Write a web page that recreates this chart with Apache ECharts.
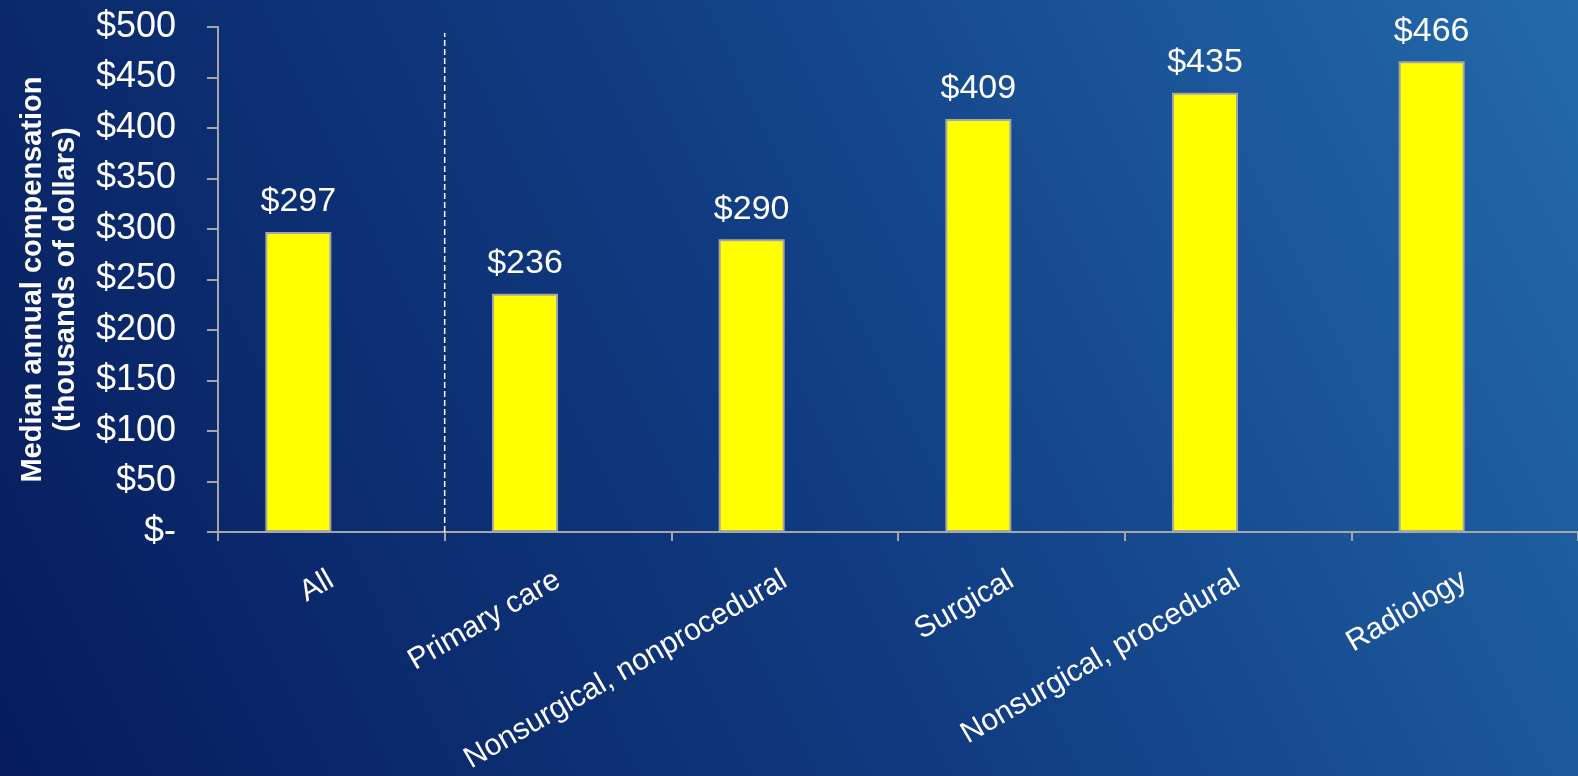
<!DOCTYPE html>
<html><head><meta charset="utf-8">
<script src="https://cdn.jsdelivr.net/npm/echarts@6/dist/echarts.min.js"></script>
<style>html,body{margin:0;padding:0;}#c{width:1578px;height:776px;}</style>
</head><body><div id="c"></div>
<script>
const categories = ["All", "Primary care", "Nonsurgical, nonprocedural", "Surgical", "Nonsurgical, procedural", "Radiology"];
const values = [297, 236, 290, 409, 435, 466];
const yTicks = {min: 0, max: 500, interval: 50};
const separatorPos = 1;      // boundary between "All" and the specialty groups (category units)
const separatorTop = 494;    // top of dashed separator (value units)

const FONT = 'Liberation Sans, Arial, sans-serif';
const chart = echarts.init(document.getElementById('c'));
chart.setOption({
  animation: false,
  backgroundColor: {
    type: 'linear', x: 0, y: 1, x2: 1, y2: 0,
    colorStops: [
      {offset: 0, color: '#061c5c'},
      {offset: 0.5, color: '#113c82'},
      {offset: 1, color: '#236aab'}
    ]
  },
  grid: {left: 218, right: -5, top: 27, bottom: 236, containLabel: false},
  xAxis: [{
    type: 'category',
    data: categories,
    boundaryGap: true,
    axisLine: {lineStyle: {color: '#a6a6a6', width: 2}},
    axisTick: {show: true, length: 9, alignWithLabel: false, lineStyle: {color: '#a6a6a6', width: 2}},
    axisLabel: {
      color: '#ffffff', fontFamily: FONT, fontSize: 30,
      rotate: 30, margin: 46, interval: 0
    }
  }, {
    type: 'value', min: 0, max: 6, show: false
  }],
  yAxis: {
    type: 'value', min: yTicks.min, max: yTicks.max, interval: yTicks.interval,
    name: 'Median annual compensation\n(thousands of dollars)',
    nameLocation: 'middle', nameGap: 136, nameRotate: 90,
    nameTextStyle: {color: '#ffffff', fontFamily: FONT, fontSize: 29, fontWeight: 'bold', lineHeight: 33},
    axisLine: {show: true, lineStyle: {color: '#a6a6a6', width: 2}},
    axisTick: {show: true, length: 11, lineStyle: {color: '#a6a6a6', width: 2}},
    splitLine: {show: false},
    axisLabel: {
      color: '#ffffff', fontFamily: FONT, fontSize: 36, margin: 42,
      formatter: v => v === 0 ? '$-' : '$' + v
    }
  },
  series: [{
    type: 'bar', data: values, barWidth: 66, barGap: '0%',
    itemStyle: {color: '#ffff00', borderColor: '#a6a6a6', borderWidth: 2},
    label: {
      show: true, position: 'top', distance: 13, color: '#ffffff',
      fontFamily: FONT, fontSize: 34,
      formatter: p => '$' + p.value
    }
  }, {
    type: 'bar', data: values.map(() => null), barWidth: 66, barGap: '0%'
  }, {
    type: 'line', xAxisIndex: 1, symbol: 'none',
    data: [[separatorPos, 0], [separatorPos, separatorTop]],
    lineStyle: {color: '#ffffff', width: 1.5, type: [6, 3]}
  }]
});
</script></body></html>
